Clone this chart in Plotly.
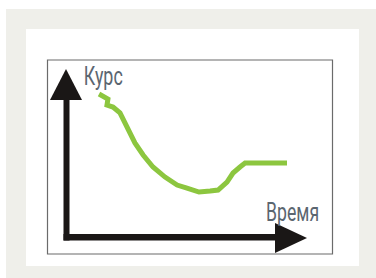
import json
import plotly.graph_objects as go

# Data (schematic: time vs. exchange rate, arbitrary units 0..100)
time_vals = [13.7, 17.4, 17.0, 19.5, 22.4, 25.3, 28.6, 32.0, 36.1, 41.1, 46.1,
             50.2, 55.2, 59.8, 63.1, 66.8, 69.3, 72.2, 74.3, 83.4, 91.7]
rate_vals = [85.0, 82.0, 78.4, 77.2, 73.7, 65.3, 55.7, 48.5, 41.3, 35.3, 30.5,
             28.7, 26.3, 26.9, 27.5, 32.3, 37.7, 41.3, 43.7, 43.7, 43.7]
y_label = "Курс"
x_label = "Время"

W, H = 376, 278


def px(x):
    return x / W


def py(y):
    return 1 - y / H


fig = go.Figure()
fig.add_trace(go.Scatter(x=time_vals, y=rate_vals, mode="lines",
                         line=dict(color="#8cc63f", width=5),
                         hoverinfo="skip", showlegend=False))

shapes = []
# gray background
shapes.append(dict(type="rect", xref="paper", yref="paper", layer="below",
                   x0=px(6), x1=px(376), y0=py(278), y1=py(9),
                   fillcolor="#efefea", line=dict(width=0)))
# white panel
shapes.append(dict(type="rect", xref="paper", yref="paper", layer="below",
                   x0=px(26), x1=px(359), y0=py(266), y1=py(29),
                   fillcolor="white", line=dict(width=0)))
# frame
shapes.append(dict(type="rect", xref="paper", yref="paper", layer="below",
                   x0=px(47.5), x1=px(332.5), y0=py(254), y1=py(60),
                   fillcolor="rgba(0,0,0,0)", line=dict(color="#6b6b6b", width=1.2)))
# vertical arrow shaft
shapes.append(dict(type="rect", xref="paper", yref="paper",
                   x0=px(63.5), x1=px(69.5), y0=py(240.5), y1=py(98),
                   fillcolor="#1a1716", line=dict(width=0)))
# vertical arrow head
shapes.append(dict(type="path", xref="paper", yref="paper",
                   path=f"M {px(50)} {py(100)} L {px(82)} {py(100)} L {px(66)} {py(69)} Z",
                   fillcolor="#1a1716", line=dict(width=0)))
# horizontal arrow shaft
shapes.append(dict(type="rect", xref="paper", yref="paper",
                   x0=px(63.5), x1=px(277), y0=py(240.5), y1=py(234),
                   fillcolor="#1a1716", line=dict(width=0)))
# horizontal arrow head
shapes.append(dict(type="path", xref="paper", yref="paper",
                   path=f"M {px(275)} {py(223)} L {px(275)} {py(253)} L {px(307)} {py(238)} Z",
                   fillcolor="#1a1716", line=dict(width=0)))

lab_font = dict(family="Roboto, sans-serif", size=25, color="#5b6670")
annotations = [
    dict(text=y_label, xref="paper", yref="paper", x=px(103.5), y=py(76),
         xanchor="center", yanchor="middle", showarrow=False, font=lab_font),
    dict(text=x_label, xref="paper", yref="paper", x=px(292.5), y=py(212.5),
         xanchor="center", yanchor="middle", showarrow=False, font=lab_font),
]

fig.update_layout(
    width=W, height=H,
    margin=dict(l=0, r=0, t=0, b=0),
    paper_bgcolor="white", plot_bgcolor="rgba(0,0,0,0)",
    shapes=shapes, annotations=annotations,
    xaxis=dict(domain=[px(66), px(307)], range=[0, 100], visible=False, fixedrange=True),
    yaxis=dict(domain=[py(236), py(69)], range=[0, 100], visible=False, fixedrange=True),
    showlegend=False,
)

# condensed look of the labels: squeeze glyphs to the reference widths
widths = json.dumps({y_label: 39, x_label: 53})
post = """
document.body.style.margin='0';
(function(){
  var lens = %s;
  function fix(){
    document.querySelectorAll('text.annotation-text').forEach(function(t){
      var s = t.textContent;
      if (lens[s]) { t.setAttribute('textLength', lens[s]); t.setAttribute('lengthAdjust', 'spacingAndGlyphs'); }
    });
  }
  fix(); setTimeout(fix, 30); setTimeout(fix, 200);
})();
""" % widths

fig.write_html("out.html", config={"displayModeBar": False}, post_script=post)
